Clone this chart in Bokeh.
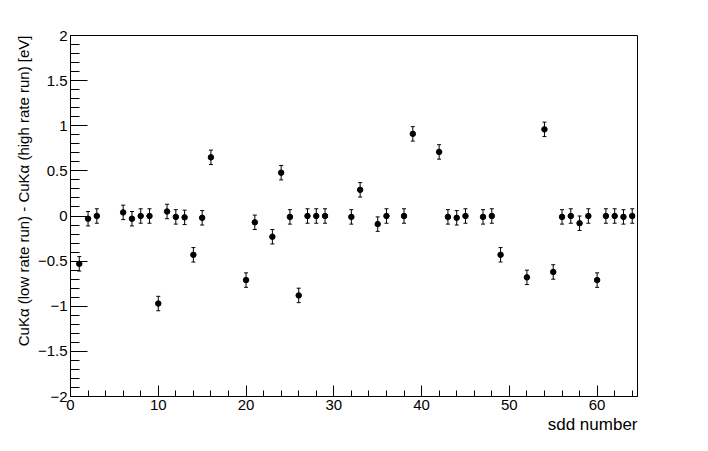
from bokeh.plotting import figure
from bokeh.models import (FixedTicker, CustomJSTickFormatter, Whisker, TeeHead,
                          ColumnDataSource, Range1d, Title)
from bokeh.embed import file_html
from bokeh.resources import INLINE

# ---- data ----
sdd = [1, 2, 3, 6, 7, 8, 9, 10, 11, 12, 13, 14, 15, 16, 20, 21, 23, 24, 25, 26,
       27, 28, 29, 32, 33, 35, 36, 38, 39, 42, 43, 44, 45, 47, 48, 49, 52, 54,
       55, 56, 57, 58, 59, 60, 61, 62, 63, 64]
delta = [-0.53, -0.03, 0.0, 0.04, -0.03, 0.0, 0.0, -0.97, 0.05, -0.01, -0.015,
         -0.43, -0.02, 0.65, -0.71, -0.07, -0.23, 0.48, -0.01, -0.88,
         0.0, 0.0, 0.0, -0.01, 0.29, -0.09, 0.0, 0.0, 0.91, 0.71, -0.01, -0.02,
         0.0, -0.01, 0.0, -0.43, -0.68, 0.96, -0.62, -0.01, 0.0, -0.08, 0.0,
         -0.71, 0.0, 0.0, -0.01, 0.0]
err = [0.08, 0.08, 0.08, 0.08, 0.08, 0.08, 0.08, 0.08, 0.08, 0.08, 0.08, 0.08,
       0.08, 0.08, 0.08, 0.08, 0.08, 0.08, 0.08, 0.08, 0.08, 0.08, 0.08, 0.08,
       0.08, 0.08, 0.08, 0.08, 0.08, 0.08, 0.08, 0.08, 0.08, 0.08, 0.08, 0.08,
       0.08, 0.08, 0.08, 0.08, 0.08, 0.08, 0.08, 0.08, 0.08, 0.08, 0.08, 0.08]
x_major = [0, 10, 20, 30, 40, 50, 60]
x_minor = [2, 4, 6, 8, 12, 14, 16, 18, 22, 24, 26, 28, 32, 34, 36, 38, 42, 44,
           46, 48, 52, 54, 56, 58, 62, 64]
y_major = [-2, -1.5, -1, -0.5, 0, 0.5, 1, 1.5, 2]
y_minor = [round(-2 + 0.1 * i, 1) for i in range(41)]
x_title = "sdd number"
y_title = "CuK\u03b1 (low rate run) - CuK\u03b1 (high rate run) [eV]"

FONT = "Liberation Sans"

p = figure(width=700, height=443, output_backend="svg", toolbar_location=None,
           x_range=Range1d(0, 64.6), y_range=Range1d(-2, 2),
           min_border_left=70, min_border_right=63, min_border_top=35,
           min_border_bottom=47)
p.background_fill_color = "white"
p.border_fill_color = "white"
p.grid.visible = False
p.outline_line_color = "black"
p.outline_line_width = 1

lower = [d - e for d, e in zip(delta, err)]
upper = [d + e for d, e in zip(delta, err)]
src = ColumnDataSource(dict(x=sdd, y=delta, lo=lower, hi=upper))

w = Whisker(source=src, base="x", lower="lo", upper="hi", dimension="height",
            line_color="black", line_width=1,
            upper_head=TeeHead(size=4, line_color="black", line_width=1),
            lower_head=TeeHead(size=4, line_color="black", line_width=1))
p.add_layout(w)
p.scatter("x", "y", source=src, size=5.5, color="black", marker="circle")

# axes
for ax in (p.xaxis[0], p.yaxis[0]):
    ax.axis_line_color = "black"
    ax.major_tick_line_color = "black"
    ax.minor_tick_line_color = "black"
    ax.major_tick_out = 0
    ax.minor_tick_out = 0
    ax.major_label_text_font = FONT
    ax.major_label_text_font_size = "15px"
    ax.major_label_text_color = "black"
    ax.major_label_standoff = 3

p.xaxis[0].ticker = FixedTicker(ticks=x_major, minor_ticks=x_minor)
p.xaxis[0].major_tick_in = 11
p.xaxis[0].minor_tick_in = 6

p.yaxis[0].ticker = FixedTicker(ticks=y_major, minor_ticks=y_minor)
p.yaxis[0].major_tick_in = 17
p.yaxis[0].minor_tick_in = 9
p.yaxis[0].formatter = CustomJSTickFormatter(
    code="return tick < 0 ? '\u2212' + String(Math.abs(tick)) : String(tick);")

p.add_layout(Title(text=x_title, align="right", text_font=FONT,
                   text_font_size="17px", text_font_style="normal",
                   text_color="black", standoff=0), "below")
p.add_layout(Title(text=y_title, align="right", text_font=FONT,
                   text_font_size="15px", text_font_style="normal",
                   text_color="black", standoff=6), "left")

open("out.html", "w").write(file_html(p, INLINE))
